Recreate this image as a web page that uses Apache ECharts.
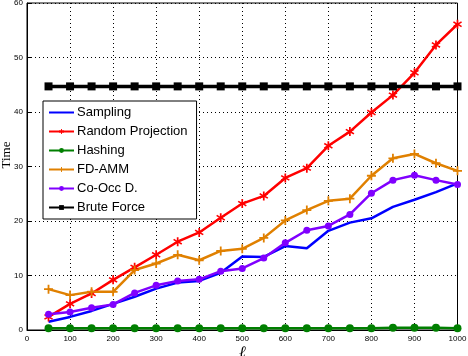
<!DOCTYPE html>
<html><head><meta charset="utf-8">
<script src="https://cdn.jsdelivr.net/npm/echarts@6/dist/echarts.min.js"></script>
<style>html,body{margin:0;padding:0;background:#fff}#c{width:468px;height:356px}</style>
</head><body><div id="c"></div>
<script>
const ells = [50,100,150,200,250,300,350,400,450,500,550,600,650,700,750,800,850,900,950,1000];
const sampling = [1.5,2.4,3.5,4.8,6.1,7.6,8.7,9.0,10.5,13.5,13.4,15.4,15.0,18.2,19.7,20.5,22.6,23.9,25.3,26.9];
const randomProjection = [2.4,4.8,6.7,9.2,11.5,13.8,16.2,17.9,20.6,23.2,24.6,27.9,29.7,33.8,36.4,39.9,43.1,47.2,52.3,56.1];
const hashing = [0.3,0.3,0.3,0.3,0.3,0.3,0.3,0.3,0.3,0.3,0.3,0.3,0.3,0.3,0.3,0.3,0.4,0.4,0.4,0.3];
const fdAmm = [7.5,6.4,7.0,7.0,11.0,12.2,13.8,12.8,14.5,14.9,16.9,20.1,22.0,23.7,24.1,28.3,31.5,32.3,30.6,29.2];
const coOcc = [2.9,3.3,4.1,4.7,6.8,8.2,9.0,9.3,10.8,11.3,13.2,16.0,18.3,19.1,21.2,25.1,27.5,28.4,27.5,26.7];
const bruteForce = [44.7,44.7,44.7,44.7,44.7,44.7,44.7,44.7,44.7,44.7,44.7,44.7,44.7,44.7,44.7,44.7,44.7,44.7,44.7,44.7];
const seriesNames = ['Sampling','Random Projection','Hashing','FD-AMM','Co-Occ D.','Brute Force'];
const xTicks = [0,100,200,300,400,500,600,700,800,900,1000];
const yTicks = [0,10,20,30,40,50,60];

const pair = arr => ells.map((x,i)=>[x,arr[i]]);
const starPath = 'path://M-1,-6L1,-6L1,-1.7L4.2,-3.9L5.2,-2.2L2,0L5.2,2.2L4.2,3.9L1,1.7L1,6L-1,6L-1,1.7L-4.2,3.9L-5.2,2.2L-2,0L-5.2,-2.2L-4.2,-3.9L-1,-1.7Z';
const plusPath = 'path://M-1,-5L1,-5L1,-1L5,-1L5,1L1,1L1,5L-1,5L-1,1L-5,1L-5,-1L-1,-1Z';

const chart = echarts.init(document.getElementById('c'), null, {renderer:'canvas'});
const mk = (name, data, color, width, symbol, size) => ({
  name, type:'line', data: pair(data), showSymbol: symbol !== 'none', symbol, symbolSize: size,
  lineStyle:{color, width}, itemStyle:{color, borderWidth:0}, animation:false, z: 3
});
chart.setOption({
  animation:false,
  textStyle:{fontFamily:'Liberation Sans, Arial, sans-serif'},
  grid:{left:27, right:10.5, top:3, bottom:26, containLabel:false, outerBoundsMode:'none',
        show:true, borderColor:'#000', borderWidth:1, backgroundColor:'transparent'},
  legend:{
    orient:'vertical', left:43, top:101,
    data: seriesNames.map((n,i)=> i===0 ? {name:n, itemStyle:{opacity:0}} : {name:n}),
    backgroundColor:'#fff', borderColor:'#000', borderWidth:1,
    padding:[5,9,5,5], itemWidth:25, itemHeight:6, itemGap:6,
    textStyle:{fontSize:13, color:'#000', fontFamily:'Liberation Sans, Arial, sans-serif', padding:[0,0,0,-2]}
  },
  xAxis:{
    type:'value', min:0, max:1000, interval:100,
    name:'ℓ', nameLocation:'middle', nameGap:15, nameMoveOverlap:false,
    nameTextStyle:{fontSize:16, fontStyle:'italic', fontFamily:'Liberation Serif, serif', color:'#000', verticalAlign:'top'},
    axisLine:{lineStyle:{color:'#000', width:1}},
    axisTick:{inside:true, length:4, lineStyle:{color:'#000'}},
    axisLabel:{fontSize:8, color:'#000', margin:5, formatter: v => xTicks.includes(v) ? String(v) : ''},
    splitLine:{show:true, lineStyle:{color:'#000', type:[1,3], width:1}}
  },
  yAxis:{
    type:'value', min:0, max:60, interval:10,
    name:'Time', nameLocation:'middle', nameGap:14, nameRotate:90, nameMoveOverlap:false,
    nameTextStyle:{fontSize:13, fontFamily:'Liberation Serif, serif', color:'#000', padding:[0,0,0,23]},
    axisLine:{show:true, lineStyle:{color:'#000', width:1}},
    axisTick:{show:true, inside:true, length:4, lineStyle:{color:'#000'}},
    axisLabel:{fontSize:8, color:'#000', margin:4, formatter: v => yTicks.includes(v) ? String(v) : ''},
    splitLine:{show:true, lineStyle:{color:'#000', type:[1,3], width:1}}
  },
  series:[
    mk(seriesNames[0], sampling, '#0000ff', 2.5, 'none', 0),
    mk(seriesNames[1], randomProjection, '#ff0000', 2.5, starPath, 9),
    mk(seriesNames[2], hashing, '#007f00', 2.5, 'circle', 8),
    mk(seriesNames[3], fdAmm, '#e08000', 2.5, plusPath, 9),
    mk(seriesNames[4], coOcc, '#8000ff', 2.5, 'circle', 7),
    mk(seriesNames[5], bruteForce, '#000000', 3.5, 'rect', 8)
  ]
});
</script></body></html>
